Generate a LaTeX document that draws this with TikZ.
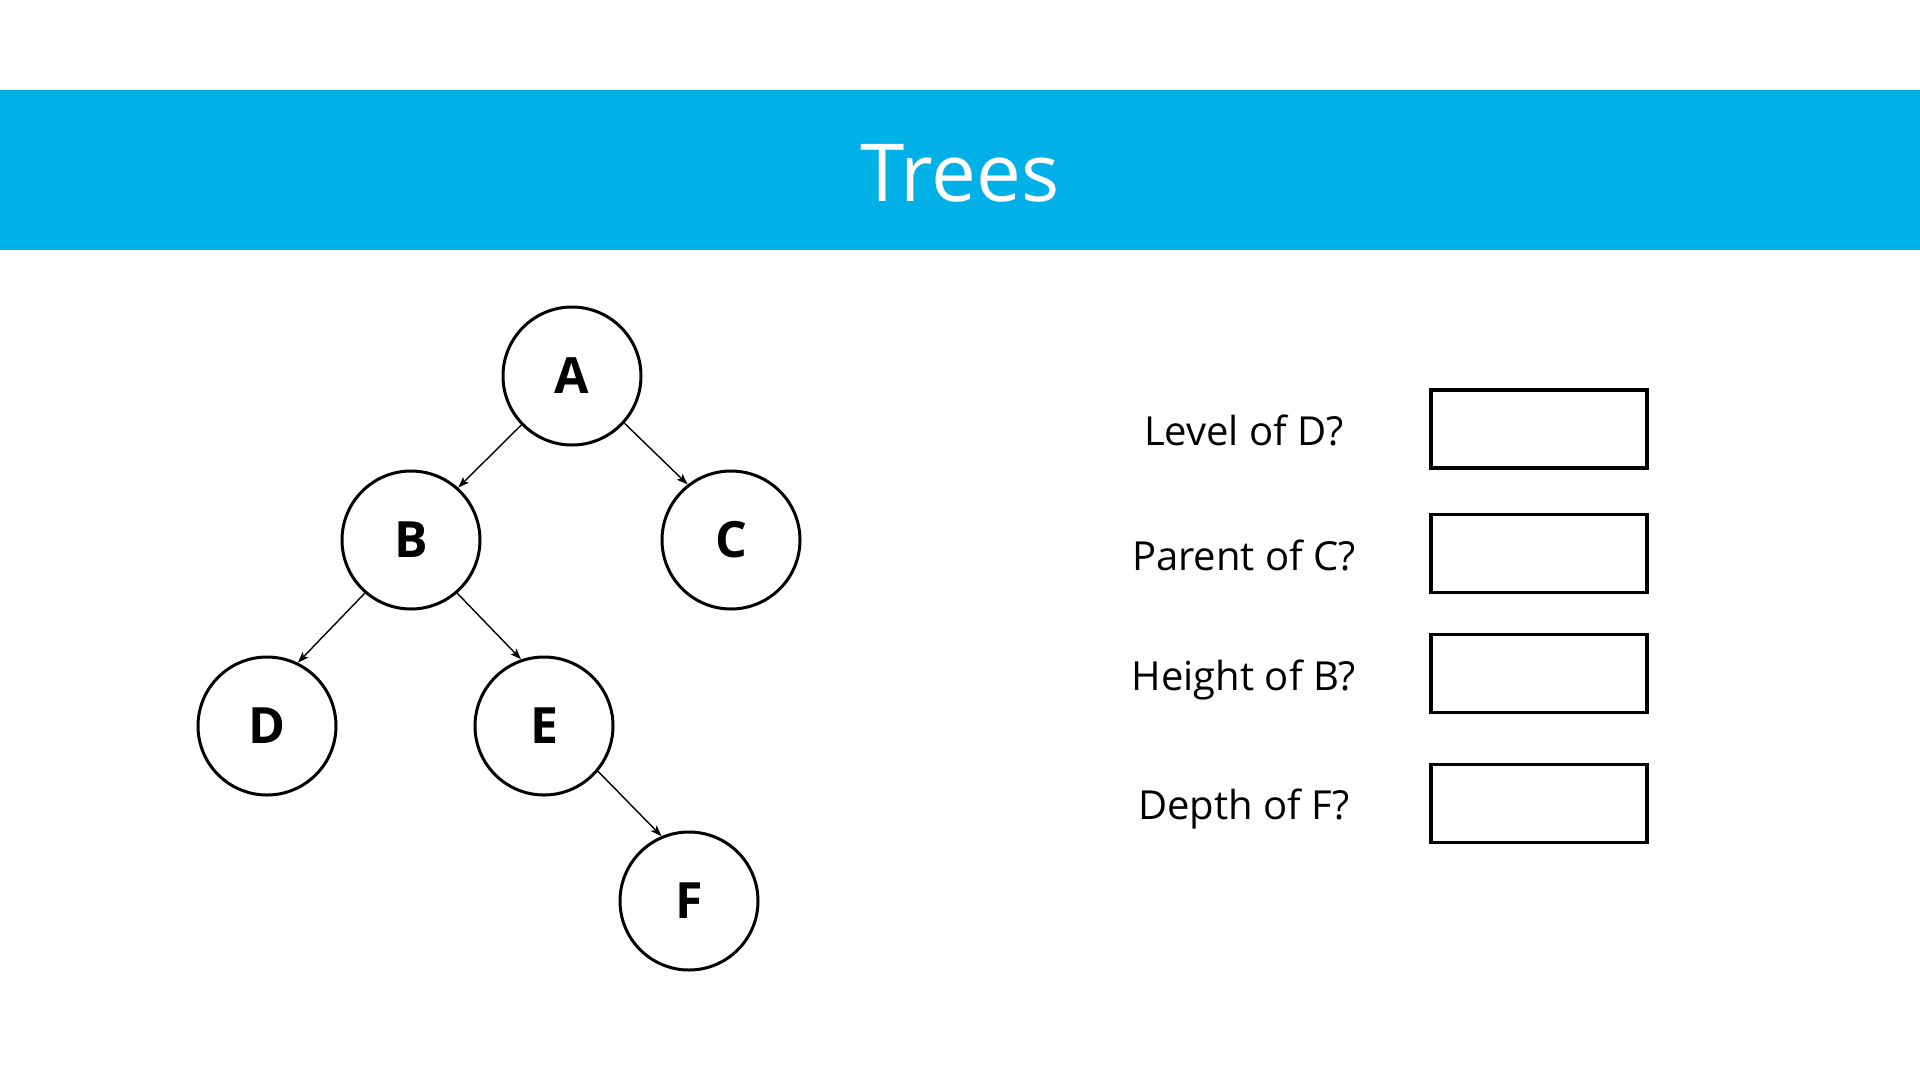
\documentclass[tikz,border=0pt]{standalone}
\usepackage{fontspec}
\setmainfont{Open Sans}
\usetikzlibrary{arrows.meta}
\definecolor{banner}{RGB}{0,176,230}
\tikzset{
  treenode/.style={circle, draw=black, line width=3pt, minimum size=138pt, inner sep=0pt,
    font=\fontsize{50}{60}\selectfont\bfseries},
  arr/.style={line width=1.4pt, -{Stealth[length=11pt,width=8pt,inset=2.5pt]}},
  qlabel/.style={anchor=base, inner sep=0pt, font=\fontsize{40}{48}\selectfont},
  ansbox/.style={draw=black, line width=3.5pt, minimum width=216pt, minimum height=78pt, inner sep=0pt, anchor=center}
}
\begin{document}
\begin{tikzpicture}[x=1pt,y=-1pt]
\useasboundingbox (0,0) rectangle (1920,1080);
\fill[white] (0,0) rectangle (1920,1080);
\fill[banner] (0,90) rectangle (1920,250);
\node[anchor=base, inner sep=0pt, text=white, font=\fontsize{80}{96}\selectfont] (title) at (960,201.5) {Trees};

\node[treenode] (A) at (572,376) {A};
\node[treenode] (B) at (411,540) {B};
\node[treenode] (C) at (731,540) {C};
\node[treenode] (D) at (267,726) {D};
\node[treenode] (E) at (544,726) {E};
\node[treenode] (F) at (689,901) {F};

\draw[arr] (A.224) -- (B.48);
\draw[arr] (A.-42) -- (C.128);
\draw[arr] (B.229) -- (D.64);
\draw[arr] (B.-49) -- (E.109);
\draw[arr] (E.-40) -- (F.113);

\node[qlabel] (q1) at (1244,445) {Level of D?};
\node[qlabel] (q2) at (1244,570) {Parent of C?};
\node[qlabel] (q3) at (1244,690) {Height of B?};
\node[qlabel] (q4) at (1244,819) {Depth of F?};

\node[ansbox] (b1) at (1539,429) {};
\node[ansbox] (b2) at (1539,553.5) {};
\node[ansbox] (b3) at (1539,673.5) {};
\node[ansbox] (b4) at (1539,803.5) {};
\end{tikzpicture}
\end{document}
